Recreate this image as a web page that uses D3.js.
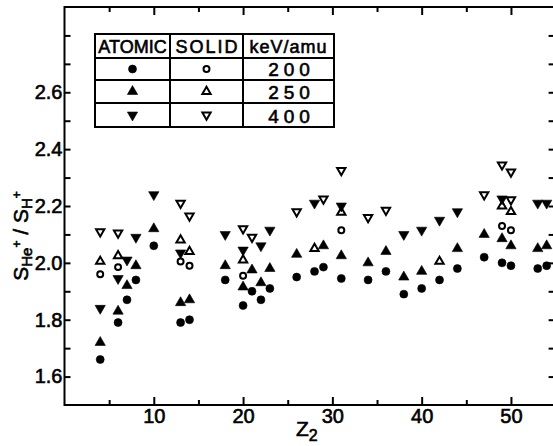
<!DOCTYPE html>
<html>
<head>
<meta charset="utf-8">
<script src="https://cdn.jsdelivr.net/npm/d3@7"></script>
<style>
  body { margin: 0; background: #fff; }
  svg { display: block; font-family: "Liberation Sans", Arial, sans-serif; }
</style>
</head>
<body>
<div id="chart"></div>
<script>
// Ratio S(He+)/S(H+) against target Z2
const atomic200 = [[4,1.66],[6,1.79],[7,1.87],[8,1.94],[10,2.06],[13,1.79],[14,1.80],[18,1.94],
  [20,1.85],[21,1.90],[22,1.87],[23,1.91],[26,1.95],[28,1.97],[29,1.985],[31,1.945],[34,1.94],
  [36,1.97],[38,1.89],[40,1.91],[42,1.94],[44,1.98],[47,2.02],[49,2.00],[50,1.99],[53,1.98],[54,1.99]];
const atomic250 = [[4,1.72],[6,1.83],[7,1.92],[8,1.99],[10,2.12],[13,1.86],[14,1.87],[18,1.99],
  [20,1.915],[21,1.975],[22,1.93],[23,1.98],[26,2.03],[29,2.06],[31,2.025],[34,2.00],[36,2.04],
  [38,1.95],[40,1.97],[44,2.05],[47,2.10],[49,2.085],[50,2.06],[53,2.05],[54,2.06]];
const atomic400 = [[4,1.84],[6,1.945],[7,2.01],[8,2.09],[10,2.24],[13,2.035],[18,2.10],[20,2.045],
  [22,2.06],[23,2.115],[28,2.21],[31,2.20],[38,2.10],[40,2.115],[42,2.15],[44,2.18],[49,2.225],
  [53,2.21],[54,2.21]];
const solid200 = [[4,1.96],[6,1.985],[13,2.005],[14,1.99],[20,1.955],[31,2.115],[49,2.13],[50,2.115]];
const solid250 = [[4,2.005],[6,2.025],[13,2.08],[14,2.04],[20,2.01],[28,2.05],[31,2.178],[42,2.005],
  [49,2.20],[50,2.18]];
const solid400 = [[4,2.11],[6,2.105],[13,2.21],[14,2.165],[20,2.12],[21,2.09],[26,2.18],[29,2.225],
  [31,2.325],[34,2.16],[36,2.185],[47,2.24],[49,2.345],[50,2.32],[50,2.222]];

const xMajorTicks = [10, 20, 30, 40, 50];
const xMinorTicks = [5, 15, 25, 35, 45];
const yTicks = [1.6, 1.7, 1.8, 1.9, 2.0, 2.1, 2.2, 2.3, 2.4, 2.5, 2.6, 2.7, 2.8];
const yTickLabels = [1.6, 1.8, 2.0, 2.2, 2.4, 2.6];
const legendHeader = ['ATOMIC', 'SOLID', 'keV/amu'];
const energies = ['200', '250', '400'];

const width = 553, height = 446;
const x = d3.scaleLinear().domain([0, 55]).range([64.5, 555.6]);
const y = d3.scaleLinear().domain([1.5, 2.9]).range([405, 7]);

const svg = d3.select('#chart').append('svg')
  .attr('width', width)
  .attr('height', height);

// ticks (all pointing inward)
function styleAxis(g) {
  g.select('.domain').remove();
  g.selectAll('line').attr('stroke', '#000').attr('stroke-width', 2);
  g.selectAll('text').attr('fill', '#000').attr('font-size', 20)
    .attr('stroke', '#000').attr('stroke-width', 0.6);
}

svg.append('g').attr('transform', `translate(0,${y(1.5)})`)
  .call(d3.axisBottom(x).tickValues(xMajorTicks).tickSize(-8).tickSizeOuter(0).tickPadding(4))
  .call(styleAxis);
svg.append('g').attr('transform', `translate(0,${y(1.5)})`)
  .call(d3.axisBottom(x).tickValues(xMinorTicks).tickSize(-5).tickSizeOuter(0).tickFormat(''))
  .call(styleAxis);
svg.append('g').attr('transform', `translate(0,${y(2.9)})`)
  .call(d3.axisTop(x).tickValues(xMajorTicks).tickSize(-8).tickSizeOuter(0).tickFormat(''))
  .call(styleAxis);
svg.append('g').attr('transform', `translate(0,${y(2.9)})`)
  .call(d3.axisTop(x).tickValues(xMinorTicks).tickSize(-5).tickSizeOuter(0).tickFormat(''))
  .call(styleAxis);
svg.append('g').attr('transform', `translate(${x(0)},0)`)
  .call(d3.axisLeft(y).tickValues(yTicks).tickSize(-6).tickSizeOuter(0).tickPadding(2)
    .tickFormat(d => yTickLabels.includes(d) ? d3.format('.1f')(d) : ''))
  .call(styleAxis);
svg.append('g').attr('transform', `translate(${x(55)},0)`)
  .call(d3.axisRight(y).tickValues(yTicks).tickSize(-7).tickSizeOuter(0).tickFormat(''))
  .call(styleAxis);

// frame
svg.append('path')
  .attr('d', `M${x(0)},${y(2.9)}V${y(1.5)}H${x(55)}V${y(2.9)}Z`)
  .attr('fill', 'none')
  .attr('stroke', '#000')
  .attr('stroke-width', 2);

// markers
const markers = {
  circle: { type: d3.symbolCircle, rot: 0 },
  up: { type: d3.symbolTriangle, rot: 0 },
  down: { type: d3.symbolTriangle, rot: 180 }
};

function marker(sel, kind, filled) {
  const m = markers[kind];
  const size = kind === 'circle' ? (filled ? 50 : 28) : (filled ? 46 : 30);
  sel.attr('d', d3.symbol().type(m.type).size(size))
    .attr('fill', filled ? '#000' : '#fff')
    .attr('stroke', '#000')
    .attr('stroke-width', filled ? 0.6 : 2)
    .attr('stroke-linejoin', 'miter');
  return sel;
}

const series = [
  { data: solid400, kind: 'down', filled: false },
  { data: solid250, kind: 'up', filled: false },
  { data: solid200, kind: 'circle', filled: false },
  { data: atomic400, kind: 'down', filled: true },
  { data: atomic250, kind: 'up', filled: true },
  { data: atomic200, kind: 'circle', filled: true }
];

const pts = svg.append('g').attr('class', 'points');
series.forEach(s => {
  pts.append('g').selectAll('path')
    .data(s.data)
    .join('path')
    .attr('transform', d => `translate(${x(d[0])},${y(d[1])}) rotate(${markers[s.kind].rot})`)
    .call(marker, s.kind, s.filled);
});

// legend table
const colX = [95, 170, 243, 334];
const rowY = [34, 58, 80, 103, 127];
const table = svg.append('g').attr('class', 'legend');
table.append('rect')
  .attr('x', colX[0]).attr('y', rowY[0])
  .attr('width', colX[3] - colX[0]).attr('height', rowY[4] - rowY[0])
  .attr('fill', '#fff').attr('stroke', '#000').attr('stroke-width', 2);
table.selectAll('line.col')
  .data(colX.slice(1, 3))
  .join('line')
  .attr('x1', d => d).attr('x2', d => d)
  .attr('y1', rowY[0]).attr('y2', rowY[4])
  .attr('stroke', '#000').attr('stroke-width', 2);
table.selectAll('line.row')
  .data(rowY.slice(1, 4))
  .join('line')
  .attr('x1', colX[0]).attr('x2', colX[3])
  .attr('y1', d => d).attr('y2', d => d)
  .attr('stroke', '#000').attr('stroke-width', 2);

table.selectAll('text.head')
  .data(legendHeader)
  .join('text')
  .attr('x', (d, i) => (colX[i] + colX[i + 1]) / 2 + (i === 1 ? 1 : 0))
  .attr('y', rowY[1] - 5)
  .attr('text-anchor', 'middle')
  .attr('font-size', 18)
  .attr('letter-spacing', (d, i) => i === 1 ? 2 : (i === 2 ? 1 : 0))
  .attr('stroke', '#000').attr('stroke-width', 0.6)
  .text(d => d);

const legendKinds = ['circle', 'up', 'down'];
legendKinds.forEach((k, i) => {
  const cy = (rowY[i + 1] + rowY[i + 2]) / 2;
  table.append('path')
    .attr('transform', `translate(${(colX[0] + colX[1]) / 2},${cy}) rotate(${markers[k].rot})`)
    .call(marker, k, true);
  table.append('path')
    .attr('transform', `translate(${(colX[1] + colX[2]) / 2},${cy}) rotate(${markers[k].rot})`)
    .call(marker, k, false);
});

table.selectAll('text.energy')
  .data(energies)
  .join('text')
  .attr('x', (colX[2] + colX[3]) / 2 + 3)
  .attr('y', (d, i) => rowY[i + 2] - 4)
  .attr('text-anchor', 'middle')
  .attr('font-size', 19)
  .attr('letter-spacing', 5)
  .attr('stroke', '#000').attr('stroke-width', 0.6)
  .text(d => d);

// axis titles
const xTitle = svg.append('text')
  .attr('x', 296).attr('y', 436)
  .attr('font-size', 21)
  .attr('stroke', '#000').attr('stroke-width', 0.6);
xTitle.append('tspan').text('Z');
xTitle.append('tspan').attr('font-size', 16).attr('dy', 5).text('2');

const yTitle = svg.append('text')
  .attr('transform', 'translate(28,236) rotate(-90)')
  .attr('text-anchor', 'middle')
  .attr('font-size', 21)
  .attr('stroke', '#000').attr('stroke-width', 0.6);
yTitle.append('tspan').text('S');
yTitle.append('tspan').attr('font-size', 15).attr('dy', 4).text('He');
yTitle.append('tspan').attr('font-size', 12).attr('dy', -11).text('+');
yTitle.append('tspan').attr('dy', 7).text(' / S');
yTitle.append('tspan').attr('font-size', 15).attr('dy', 4).text('H');
yTitle.append('tspan').attr('font-size', 12).attr('dy', -11).text('+');
</script>
</body>
</html>
